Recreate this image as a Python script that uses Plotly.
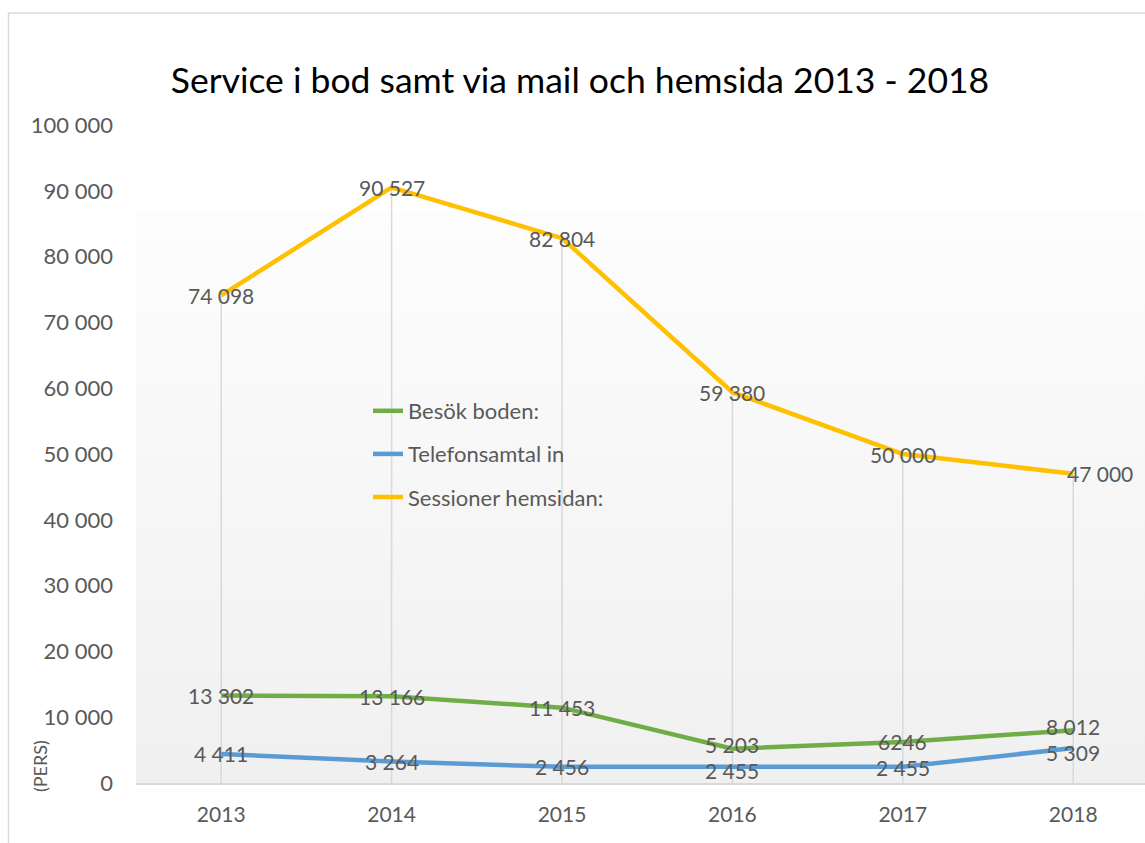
import plotly.graph_objects as go

# ---- data ----
years = ["2013", "2014", "2015", "2016", "2017", "2018"]
besok_boden = [13302, 13166, 11453, 5203, 6246, 8012]
telefonsamtal = [4411, 3264, 2456, 2455, 2455, 5309]
sessioner = [74098, 90527, 82804, 59380, 50000, 47000]
besok_labels = ["13 302", "13 166", "11 453", "5 203", "6246", "8 012"]
telefon_labels = ["4 411", "3 264", "2 456", "2 455", "2 455", "5 309"]
sessioner_labels = ["74 098", "90 527", "82 804", "59 380", "50 000", "47 000"]
y_ticks = list(range(0, 100001, 10000))

FONT = "Lato"
GRAY_TXT = "#595959"
xs = list(range(len(years)))

W, H = 1145, 843
L, R, T, B = 136, 0, 125, 60
pw, ph = W - L - R, H - T - B
YMAX = 100000


def px_x(p):
    return (p - L) / pw


def px_y(p):
    return (H - B - p) / ph


fig = go.Figure()

# plot-area gradient background (Excel style)
g_top = 86800
fig.add_trace(go.Scatter(
    x=[-0.5, 6.0, 6.0, -0.5, -0.5], y=[0, 0, g_top, g_top, 0],
    mode="lines", line=dict(width=0), fill="toself",
    fillgradient=dict(type="vertical", colorscale=[[0, "#f0f0f0"], [1, "#fdfdfd"]]),
    hoverinfo="skip", showlegend=False))

# drop lines
dx, dy = [], []
for i in xs:
    top = max(besok_boden[i], telefonsamtal[i], sessioner[i])
    dx += [i, i, None]
    dy += [0, top, None]
fig.add_trace(go.Scatter(x=dx, y=dy, mode="lines",
                         line=dict(color="#d9d9d9", width=1.5),
                         hoverinfo="skip", showlegend=False))

series = [
    ("Besök boden:", besok_boden, besok_labels, "#70ad47"),
    ("Telefonsamtal in", telefonsamtal, telefon_labels, "#5b9bd5"),
    ("Sessioner hemsidan:", sessioner, sessioner_labels, "#ffc000"),
]
for k, (name, vals, labs, col) in enumerate(series):
    fig.add_trace(go.Scatter(x=xs, y=vals, mode="lines", name=name,
                             legendgroup=f"g{k}",
                             line=dict(color=col, width=4.5)))

annotations = []
for name, vals, labs, col in series:
    for i, (v, t) in enumerate(zip(vals, labs)):
        xshift, yshift = 0, 0
        if name.startswith("Sessioner") and i == len(vals) - 1:
            xshift = 27
        # keep the close green/blue labels from colliding
        gap_px = (besok_boden[i] - telefonsamtal[i]) / YMAX * ph
        if gap_px < 26:
            push = (26 - gap_px) / 2
            if name.startswith("Besök"):
                yshift = push
            elif name.startswith("Telefon"):
                yshift = -push
        annotations.append(dict(x=xs[i], y=v, text=t, showarrow=False,
                                xshift=xshift, yshift=yshift,
                                font=dict(family=FONT, size=21, color=GRAY_TXT)))

annotations.append(dict(xref="paper", yref="paper", x=px_x(40), y=px_y(766),
                        xanchor="center", yanchor="middle",
                        text="(PERS)", textangle=-90, showarrow=False,
                        font=dict(family=FONT, size=18, color=GRAY_TXT)))

shapes = [
    dict(type="line", xref="paper", yref="paper", x0=px_x(8.5), x1=px_x(8.5),
         y0=px_y(13), y1=px_y(860), line=dict(color="#d9d9d9", width=1.5)),
    dict(type="line", xref="paper", yref="paper", x0=px_x(8.5), x1=px_x(1160),
         y0=px_y(13), y1=px_y(13), line=dict(color="#d9d9d9", width=1.5)),
]

fig.update_layout(
    width=W, height=H, autosize=False,
    margin=dict(l=L, r=R, t=T, b=B),
    paper_bgcolor="white", plot_bgcolor="white",
    separators=", ",
    font=dict(family=FONT, color=GRAY_TXT, size=21),
    title=dict(text="Service i bod samt via mail och hemsida 2013 - 2018",
               xref="container", yref="container", x=580 / W, y=1 - 81 / H,
               xanchor="center", yanchor="middle",
               font=dict(family=FONT, size=35.5, color="black")),
    xaxis=dict(range=[-0.5, -0.5 + pw / 170.4], tickmode="array",
               tickvals=xs, ticktext=years, showgrid=False, zeroline=False,
               showline=True, linecolor="#d9d9d9", linewidth=2,
               ticks="", ticklabelstandoff=12,
               tickfont=dict(family=FONT, size=21, color=GRAY_TXT)),
    yaxis=dict(range=[0, YMAX], tickmode="array", tickvals=y_ticks,
               tickformat=",d", showgrid=False, zeroline=False,
               showline=False, ticks="", ticklabelstandoff=22,
               tickfont=dict(family=FONT, size=22, color=GRAY_TXT)),
    legend=dict(x=px_x(368), y=px_y(390), xanchor="left", yanchor="top",
                bgcolor="rgba(0,0,0,0)", tracegroupgap=11.5,
                font=dict(family=FONT, size=22, color=GRAY_TXT)),
    annotations=annotations,
    shapes=shapes,
    showlegend=True,
)

fig.write_html("out.html")
